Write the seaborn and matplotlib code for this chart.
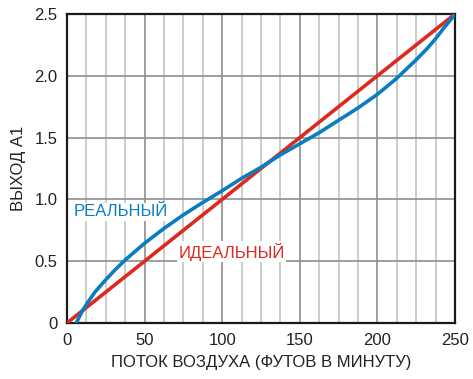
import matplotlib
matplotlib.use("Agg")
import matplotlib.pyplot as plt
import seaborn as sns
import pandas as pd
import numpy as np
from matplotlib.ticker import MultipleLocator, FixedLocator

# Data
real_x = [6, 10, 12.5, 18, 25, 31, 37.5, 44, 50, 62.5, 75, 87.5, 100, 112.5, 125,
          137.5, 150, 162.5, 175, 187.5, 200, 212.5, 225, 232, 237.5, 243, 247, 250]
real_y = [0.0, 0.1, 0.15, 0.25, 0.35, 0.43, 0.51, 0.58, 0.645, 0.765, 0.875, 0.975, 1.07, 1.17, 1.26,
          1.36, 1.45, 1.54, 1.64, 1.74, 1.85, 1.98, 2.13, 2.22, 2.30, 2.39, 2.45, 2.5]
ideal_x = [0, 250]
ideal_y = [0.0, 2.5]

x_ticks = [0, 50, 100, 150, 200, 250]
x_tick_labels = ["0", "50", "100", "150", "200", "250"]
y_ticks = [0, 0.5, 1.0, 1.5, 2.0, 2.5]
y_tick_labels = ["0", "0.5", "1.0", "1.5", "2.0", "2.5"]

label_real = "РЕАЛЬНЫЙ"
label_ideal = "ИДЕАЛЬНЫЙ"
xlabel = "ПОТОК ВОЗДУХА (ФУТОВ В МИНУТУ)"
ylabel = "ВЫХОД А1"

sns.set_style("white")
plt.rcParams['font.family'] = ['Liberation Sans', 'DejaVu Sans']

BLUE = "#0a7dc2"
RED = "#dc2a1f"

fig = plt.figure(figsize=(4.73, 3.79), dpi=100)
ax = fig.add_axes([0.1416, 0.1478, 0.8204, 0.8153])

df_real = pd.DataFrame({"x": real_x, "y": real_y})
df_ideal = pd.DataFrame({"x": ideal_x, "y": ideal_y})

ax.set_xlim(0, 250)
ax.set_ylim(0, 2.5)

# grid
ax.xaxis.set_minor_locator(MultipleLocator(12.5))
ax.xaxis.set_major_locator(FixedLocator(x_ticks))
ax.yaxis.set_major_locator(FixedLocator(y_ticks))
ax.grid(which="minor", axis="x", color="#c4c4c4", lw=1.2)
ax.grid(which="major", axis="both", color="#8e8e8e", lw=1.2)
ax.set_axisbelow(True)

sns.lineplot(data=df_ideal, x="x", y="y", ax=ax, color=RED, lw=2.6, zorder=3)
sns.lineplot(data=df_real, x="x", y="y", ax=ax, color=BLUE, lw=2.6, zorder=4)

ax.set_xticklabels(x_tick_labels)
ax.set_yticklabels(y_tick_labels)
ax.tick_params(axis="both", which="both", direction="out", length=4, width=1,
               color="#888888", labelsize=12, labelcolor="#222222", pad=3)
ax.tick_params(axis="x", which="major", length=4)

for s in ax.spines.values():
    s.set_color("#1a1a1a")
    s.set_linewidth(1.6)

ax.set_xlabel(xlabel, fontsize=12, color="#222222", labelpad=5)
ax.set_ylabel(ylabel, fontsize=12, color="#222222", labelpad=6)

ax.text(4, 0.9, label_real, color=BLUE, fontsize=12, va="center", ha="left", zorder=5,
        bbox=dict(facecolor="white", edgecolor="none", pad=1))
ax.text(72, 0.577, label_ideal, color=RED, fontsize=12, va="center", ha="left", zorder=5,
        bbox=dict(facecolor="white", edgecolor="none", pad=1))

fig.savefig("out.png", dpi=100)
